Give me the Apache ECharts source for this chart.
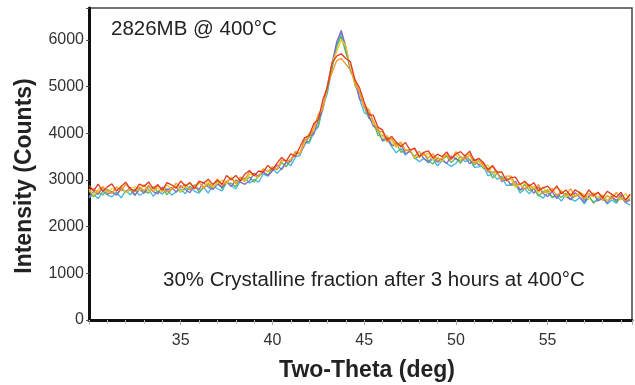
<!DOCTYPE html>
<html>
<head>
<meta charset="utf-8">
<script src="https://cdn.jsdelivr.net/npm/echarts@6/dist/echarts.min.js"></script>
<style>
html,body{margin:0;padding:0;background:#fff;}
#c{width:635px;height:385px;}
</style>
</head>
<body>
<div id="c"></div>
<script>
// Two-theta sampling (deg)
const twoTheta = [30,30.25,30.5,30.75,31,31.25,31.5,31.75,32,32.25,32.5,32.75,33,33.25,33.5,33.75,34,34.25,34.5,34.75,35,35.25,35.5,35.75,36,36.25,36.5,36.75,37,37.25,37.5,37.75,38,38.25,38.5,38.75,39,39.25,39.5,39.75,40,40.25,40.5,40.75,41,41.25,41.5,41.75,42,42.25,42.5,42.75,43,43.25,43.5,43.75,44,44.25,44.5,44.75,45,45.25,45.5,45.75,46,46.25,46.5,46.75,47,47.25,47.5,47.75,48,48.25,48.5,48.75,49,49.25,49.5,49.75,50,50.25,50.5,50.75,51,51.25,51.5,51.75,52,52.25,52.5,52.75,53,53.25,53.5,53.75,54,54.25,54.5,54.75,55,55.25,55.5,55.75,56,56.25,56.5,56.75,57,57.25,57.5,57.75,58,58.25,58.5,58.75,59,59.25,59.5];

const scanCyan = [2620,2695,2600,2755,2680,2635,2740,2615,2770,2680,2805,2670,2720,2805,2650,2760,2695,2810,2675,2740,2805,2700,2865,2755,2715,2845,2715,2885,2810,2765,2945,2875,2805,2970,3045,2930,3010,2950,3130,3080,3250,3140,3240,3380,3300,3490,3520,3800,3790,4010,4140,4550,4870,5420,5900,6150,5800,5320,5140,4730,4440,4390,4150,4050,3830,3870,3710,3580,3670,3530,3630,3480,3390,3460,3360,3450,3300,3415,3350,3290,3355,3495,3390,3435,3270,3280,3300,3090,3130,3010,3080,2880,2890,2900,2720,2810,2700,2820,2680,2610,2725,2620,2660,2545,2695,2595,2545,2625,2485,2635,2530,2555,2640,2485,2570,2500,2635,2510,2460];

const scanGreen = [2760,2635,2740,2675,2800,2745,2670,2825,2730,2790,2665,2820,2760,2715,2860,2740,2825,2680,2805,2860,2735,2830,2785,2895,2745,2845,2895,2815,2960,2815,2935,2925,2855,3030,2965,3060,2950,3100,3180,3100,3240,3220,3370,3280,3430,3560,3560,3820,3820,4080,4160,4590,4930,5380,5850,6080,5720,5450,5020,4870,4570,4320,4260,3950,3950,3910,3720,3800,3590,3630,3650,3450,3510,3570,3410,3340,3470,3415,3510,3370,3475,3355,3510,3435,3310,3410,3240,3250,3040,3140,3030,3050,2880,2910,2770,2910,2770,2810,2650,2750,2785,2630,2690,2625,2715,2575,2655,2715,2565,2645,2500,2605,2660,2555,2630,2520,2655,2530,2600];

const scanPurple = [2640,2755,2690,2845,2690,2745,2680,2805,2740,2840,2675,2790,2720,2865,2750,2700,2845,2780,2835,2740,2875,2790,2725,2875,2795,2945,2845,2795,2910,2845,2975,2855,2995,2950,2905,2980,3140,3070,3170,3090,3190,3320,3220,3380,3390,3600,3550,3740,3940,3970,4290,4500,5040,5500,5950,6200,5850,5390,5120,4730,4650,4370,4160,4100,3850,3920,3750,3720,3760,3560,3610,3500,3610,3460,3390,3490,3380,3445,3350,3510,3445,3405,3500,3345,3450,3310,3370,3170,3160,3180,2960,3020,2900,2970,2790,2820,2850,2710,2850,2710,2645,2750,2600,2745,2645,2575,2725,2625,2525,2655,2700,2555,2600,2505,2650,2560,2685,2520,2570];

const scanYellow = [2810,2665,2790,2845,2720,2815,2770,2875,2720,2810,2855,2770,2900,2745,2850,2820,2735,2890,2805,2880,2745,2870,2925,2815,2925,2865,2975,2835,2930,2995,2915,3065,2935,3050,2955,3120,3100,3050,3240,3170,3280,3220,3410,3410,3420,3610,3550,3800,4000,4050,4390,4520,5000,5510,5750,6000,5870,5420,5050,4900,4610,4510,4190,4130,3880,3950,3830,3690,3790,3630,3660,3470,3600,3520,3570,3430,3490,3385,3560,3460,3545,3415,3530,3555,3370,3390,3280,3320,3130,3160,3170,2980,3020,2840,2910,2940,2810,2860,2730,2850,2715,2770,2830,2765,2625,2715,2635,2745,2675,2585,2730,2625,2680,2545,2690,2630,2575,2710,2590];

const scanOrange = [2760,2815,2720,2855,2770,2705,2850,2765,2910,2800,2745,2850,2770,2885,2750,2870,2805,2740,2795,2930,2835,2910,2795,2865,2955,2815,2925,2875,3020,2885,2965,3035,2915,3060,3005,3180,3090,3070,3230,3180,3270,3220,3430,3400,3430,3600,3570,3860,3910,4110,4400,4540,5020,5300,5550,5600,5480,5350,5100,4880,4540,4500,4250,4050,4030,3810,3890,3740,3810,3620,3630,3670,3480,3560,3470,3560,3410,3465,3530,3430,3605,3495,3440,3535,3350,3460,3310,3190,3290,3140,2990,3080,3080,2900,2910,2790,2910,2790,2900,2720,2755,2820,2660,2755,2675,2815,2645,2685,2605,2715,2640,2735,2560,2665,2590,2730,2605,2550,2690];

const scanRed = [2880,2765,2910,2755,2850,2915,2760,2855,2950,2810,2765,2910,2860,2955,2810,2900,2775,2940,2895,2820,2975,2870,2945,2805,2975,2935,3015,2905,2990,2905,3095,3005,3095,2980,3125,3200,3090,3190,3170,3310,3220,3360,3480,3400,3560,3500,3710,3900,3950,4200,4290,4720,4990,5510,5650,5700,5600,5530,5140,4970,4670,4400,4380,4130,4070,3850,3930,3810,3710,3800,3640,3680,3500,3590,3620,3470,3550,3495,3600,3450,3555,3605,3510,3615,3410,3460,3370,3220,3310,3160,3170,2980,3050,3060,2900,2970,2870,2940,2770,2830,2865,2750,2870,2705,2785,2655,2785,2725,2635,2785,2670,2735,2620,2755,2690,2630,2735,2570,2690];

const yTicks = [0,1000,2000,3000,4000,5000,6000];
const xTickLabels = [35,40,45,50,55];

const scans = [
  {name:'scan 1', data:scanCyan,   color:'#3cb6e3'},
  {name:'scan 2', data:scanGreen,  color:'#62b84a'},
  {name:'scan 3', data:scanPurple, color:'#8a66c8'},
  {name:'scan 4', data:scanYellow, color:'#e3cf2a'},
  {name:'scan 5', data:scanOrange, color:'#f5962a'},
  {name:'scan 6', data:scanRed,    color:'#e5361f'}
];

const FONT = "'Liberation Sans', Arial, sans-serif";
const chart = echarts.init(document.getElementById('c'), null, {renderer:'canvas'});
chart.setOption({
  animation:false,
  backgroundColor:'#fff',
  grid:{left:89, right:2, top:8, bottom:65, show:true, borderColor:'#444', borderWidth:1.5, backgroundColor:'transparent'},
  xAxis:{
    type:'value', min:30, max:59.6, interval:5,
    axisLine:{show:true, onZero:false, lineStyle:{color:'#111', width:3}},
    axisTick:{show:true, length:5, lineStyle:{color:'#aaa', width:1}},
    minorTick:{show:true, splitNumber:5, length:4, lineStyle:{color:'#bbb', width:1}},
    splitLine:{show:false},
    axisLabel:{fontFamily:FONT, fontSize:16, color:'#333', margin:13,
      formatter:function(v){return xTickLabels.indexOf(v)>=0 ? String(v) : '';}}
  },
  yAxis:{
    type:'value', min:0, max:6680, interval:1000,
    axisLine:{show:true, lineStyle:{color:'#111', width:3}},
    axisTick:{show:true, length:3, lineStyle:{color:'#555', width:1}},
    splitLine:{show:false},
    axisLabel:{fontFamily:FONT, fontSize:16, color:'#333', margin:5,
      formatter:function(v){return yTicks.indexOf(v)>=0 ? String(v) : '';}}
  },
  graphic:[
    {type:'text', x:25, y:176, rotation:Math.PI/2,
     style:{text:'Intensity (Counts)', font:'bold 23px '+FONT, fill:'#222', textAlign:'center', textVerticalAlign:'middle'}},
    {type:'text', x:367, y:371,
     style:{text:'Two-Theta (deg)', font:'bold 23px '+FONT, fill:'#222', textAlign:'center', textVerticalAlign:'middle'}},
    {type:'text', x:111, y:29,
     style:{text:'2826MB @ 400°C', font:'20.5px '+FONT, fill:'#222', textAlign:'left', textVerticalAlign:'middle'}},
    {type:'text', x:163, y:280,
     style:{text:'30% Crystalline fraction after 3 hours at 400°C', font:'20.5px '+FONT, fill:'#222', textAlign:'left', textVerticalAlign:'middle'}}
  ],
  series: scans.map(function(s){
    return {
      name:s.name, type:'line', showSymbol:false, symbol:'none',
      data: twoTheta.map(function(t,i){return [t, s.data[i]];}),
      lineStyle:{color:s.color, width:1.3}, itemStyle:{color:s.color},
      emphasis:{disabled:true}, silent:true
    };
  })
});
</script>
</body>
</html>
